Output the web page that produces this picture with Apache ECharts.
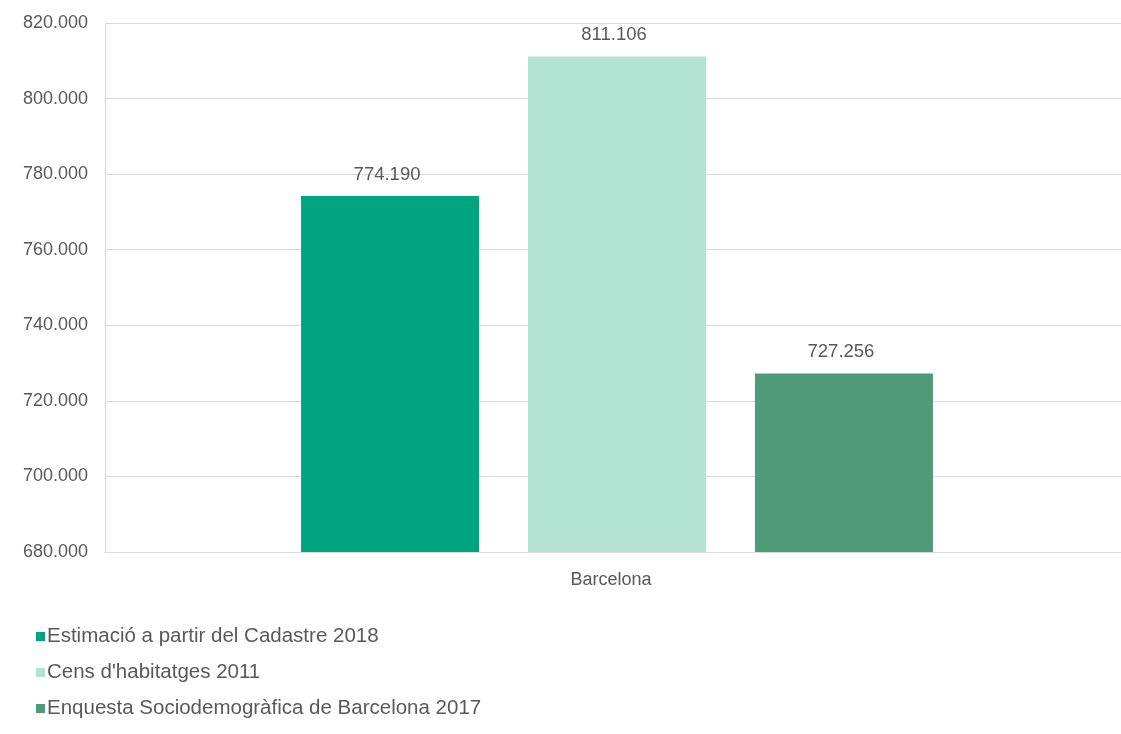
<!DOCTYPE html>
<html><head><meta charset="utf-8">
<script src="https://cdn.jsdelivr.net/npm/echarts@6/dist/echarts.min.js"></script>
<style>html,body{margin:0;padding:0;background:#fff;overflow:hidden}#c{width:1129px;height:734px}</style>
</head><body><div id="c"></div>
<script>
const categories = ['Barcelona'];
const seriesNames = ['Estimació a partir del Cadastre 2018', "Cens d'habitatges 2011", 'Enquesta Sociodemogràfica de Barcelona 2017'];
const cadastre2018 = [774190];
const cens2011 = [811106];
const enquesta2017 = [727256];
const colors = ['#00A57F', '#B3E3D3', '#4E9A7B'];
const yMin = 680000, yMax = 820000, yStep = 20000;

function fmt(v){ return String(Math.round(v)).replace(/\B(?=(\d{3})+(?!\d))/g, '.'); }

const font = 'Liberation Sans, Arial, sans-serif';
const txt = '#595959';
const chart = echarts.init(document.getElementById('c'), null, {renderer:'canvas'});
const allData = [cadastre2018, cens2011, enquesta2017];
chart.setOption({
  animation:false,
  grid:{left:105, right:0, top:23, bottom:182, containLabel:false},
  legend:{
    orient:'vertical', left:36, top:626, padding:0, itemWidth:9, itemHeight:9, itemGap:15,
    icon:'rect',
    textStyle:{color:txt, fontFamily:font, fontSize:20.5, padding:[0,0,0,-3]},
    data:seriesNames
  },
  xAxis:{
    type:'category', data:categories,
    axisLine:{lineStyle:{color:'#d9d9d9'}}, axisTick:{show:false},
    axisLabel:{color:txt, fontFamily:font, fontSize:18, margin:19, padding:[0,12,0,0]}
  },
  yAxis:{
    type:'value', min:yMin, max:yMax, interval:yStep,
    axisLine:{show:true, lineStyle:{color:'#d9d9d9'}}, axisTick:{show:false},
    splitLine:{lineStyle:{color:'#d9d9d9'}},
    axisLabel:{color:txt, fontFamily:font, fontSize:18, margin:17, formatter:fmt}
  },
  series: seriesNames.map((n,i)=>({
    name:n, type:'bar', data:allData[i], barWidth:178, barGap:'27.5%',
    itemStyle:{color:colors[i]},
    label:{show:true, position:'top', distance:12, offset:[-3,0], color:txt, fontFamily:font, fontSize:18.5, formatter:p=>fmt(p.value)}
  }))
});
</script></body></html>
